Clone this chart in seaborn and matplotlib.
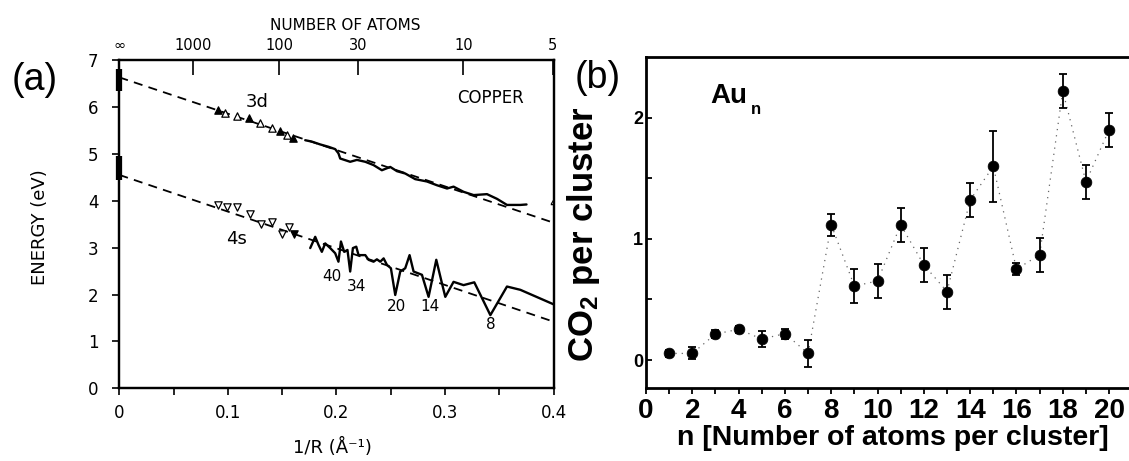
import numpy as np
import pandas as pd
import matplotlib
matplotlib.use("Agg")
import matplotlib.pyplot as plt
import seaborn as sns

# ---------------- data: panel (a) copper ----------------
d3_tri_x = [0.0913, 0.0974, 0.1088, 0.1195, 0.1297, 0.1405, 0.1481, 0.1543, 0.1598]
d3_tri_y = [5.93, 5.86, 5.81, 5.76, 5.65, 5.56, 5.49, 5.40, 5.34]
d3_tri_filled = [1, 0, 0, 1, 0, 0, 1, 0, 1]
s4_tri_x = [0.0913, 0.0990, 0.1088, 0.1205, 0.1303, 0.1410, 0.1497, 0.1558, 0.1604]
s4_tri_y = [3.91, 3.86, 3.86, 3.71, 3.50, 3.55, 3.29, 3.45, 3.30]
s4_tri_filled = [0, 0, 0, 0, 0, 0, 0, 0, 1]

d3_line_x = [0.1712, 0.1773, 0.1850, 0.1926, 0.1988, 0.2018, 0.2034, 0.2126, 0.2188, 0.2265,
             0.2341, 0.2418, 0.2495, 0.2557, 0.2633, 0.2725, 0.2833, 0.2925, 0.3018, 0.3078,
             0.3170, 0.3263, 0.3386, 0.3478, 0.3570, 0.3693, 0.3750]
d3_line_y = [5.29, 5.26, 5.20, 5.15, 5.10, 5.01, 4.90, 4.83, 4.87, 4.83,
             4.76, 4.65, 4.72, 4.63, 4.58, 4.46, 4.41, 4.33, 4.26, 4.30,
             4.19, 4.12, 4.14, 4.04, 3.91, 3.91, 3.92]
s4_line_x = [0.1758, 0.1804, 0.1834, 0.1865, 0.1896, 0.1942, 0.1988, 0.2018, 0.2041, 0.2071,
             0.2101, 0.2126, 0.2151, 0.2182, 0.2203, 0.2265, 0.2295, 0.2341, 0.2372, 0.2403,
             0.2434, 0.2465, 0.2501, 0.2541, 0.2587, 0.2633, 0.2673, 0.2710, 0.2787, 0.2848,
             0.2919, 0.2971, 0.3002, 0.3078, 0.3170, 0.3269, 0.3417, 0.3570, 0.3693, 0.4000]
s4_line_y = [2.99, 3.23, 3.06, 2.91, 3.09, 2.99, 2.88, 2.70, 3.13, 2.91,
             2.95, 2.49, 2.99, 3.02, 2.84, 2.84, 2.74, 2.70, 2.75, 2.70,
             2.77, 2.63, 2.56, 1.99, 2.49, 2.56, 2.84, 2.49, 2.42, 1.95,
             2.74, 2.24, 1.95, 2.27, 2.20, 2.26, 1.56, 2.17, 2.10, 1.79]

fit_x = [0.0, 0.4]
d3_fit_y = [6.63, 3.53]
s4_fit_y = [4.55, 1.42]
d3_bulk = [6.35, 6.80]
s4_bulk = [4.45, 4.95]

size_labels = ["40", "34", "20", "14", "8"]
size_label_x = [0.196, 0.218, 0.255, 0.2864, 0.3417]
size_label_y = [2.38, 2.17, 1.74, 1.75, 1.35]

top_atoms = [np.inf, 1000, 100, 30, 10, 5]
top_labels = ["∞", "1000", "100", "30", "10", "5"]
r_ws = 1.465  # Wigner-Seitz radius (Å) used for the N axis

# ---------------- data: panel (b) Au_n ----------------
n_atoms = list(range(1, 21))
co2 = [0.055, 0.055, 0.215, 0.254, 0.174, 0.218, 0.055, 1.116, 0.61, 0.653,
       1.116, 0.785, 0.565, 1.32, 1.598, 0.75, 0.868, 2.22, 1.47, 1.90]
co2_err = [0.03, 0.05, 0.03, 0.03, 0.07, 0.04, 0.11, 0.09, 0.14, 0.14,
           0.14, 0.14, 0.14, 0.14, 0.29, 0.05, 0.14, 0.14, 0.14, 0.14]

# ---------------- figure ----------------
sns.set_style("ticks")
plt.rcParams["font.family"] = ["DejaVu Sans"]
plt.rcParams["mathtext.default"] = "regular"
for k in ["text.color", "axes.labelcolor", "xtick.color", "ytick.color", "axes.edgecolor"]:
    plt.rcParams[k] = "black"

fig = plt.figure(figsize=(11.29, 4.61), dpi=100)
axA = fig.add_axes([0.1057, 0.1577, 0.3847, 0.7121])
axB = fig.add_axes([0.5722, 0.1584, 0.4278, 0.7180])

# ----- panel (a) -----
dash = (0, (5, 3.5))
sns.lineplot(x=fit_x, y=d3_fit_y, ax=axA, color="black", lw=1.3, linestyle=dash, sort=False, estimator=None)
sns.lineplot(x=fit_x, y=s4_fit_y, ax=axA, color="black", lw=1.3, linestyle=dash, sort=False, estimator=None)
sns.lineplot(x=d3_line_x, y=d3_line_y, ax=axA, color="black", lw=1.7, sort=False, estimator=None)
sns.lineplot(x=s4_line_x, y=s4_line_y, ax=axA, color="black", lw=1.7, sort=False, estimator=None)

tri = pd.DataFrame({"x": d3_tri_x, "y": d3_tri_y, "f": d3_tri_filled})
for f, fc in [(0, "white"), (1, "black")]:
    sub = tri[tri.f == f]
    sns.scatterplot(x=sub.x, y=sub.y, ax=axA, marker="^", s=28, facecolor=fc,
                    edgecolor="black", linewidth=0.9, zorder=4)
tri4 = pd.DataFrame({"x": s4_tri_x, "y": s4_tri_y, "f": s4_tri_filled})
for f, fc in [(0, "white"), (1, "black")]:
    sub = tri4[tri4.f == f]
    sns.scatterplot(x=sub.x, y=sub.y, ax=axA, marker="v", s=28, facecolor=fc,
                    edgecolor="black", linewidth=0.9, zorder=4)

axA.vlines(0, d3_bulk[0], d3_bulk[1], color="black", lw=4.5, clip_on=False, zorder=5)
axA.vlines(0, s4_bulk[0], s4_bulk[1], color="black", lw=4.5, clip_on=False, zorder=5)

for t, x, y in zip(size_labels, size_label_x, size_label_y):
    axA.text(x, y, t, ha="center", va="center", fontsize=11)
axA.text(0.127, 6.11, "3d", ha="center", va="center", fontsize=13)
axA.text(0.108, 3.18, "4s", ha="center", va="center", fontsize=13)
axA.text(0.342, 6.20, "COPPER", ha="center", va="center", fontsize=12)
axA.text(0.4, 3.95, "4", ha="center", va="center", fontsize=11, clip_on=True)

axA.set_xlim(0, 0.4)
axA.set_ylim(0, 7)
axA.set_xticks(np.arange(0, 0.401, 0.05))
axA.set_xticklabels(["0", "", "0.1", "", "0.2", "", "0.3", "", "0.4"])
axA.set_yticks(range(0, 8))
axA.tick_params(axis="x", direction="out", length=5, width=1.2, pad=6.3, labelsize=12)
axA.tick_params(axis="y", direction="out", length=5, width=1.2, pad=10, labelsize=12)
for sp in axA.spines.values():
    sp.set_linewidth(1.6)
    sp.set_visible(True)
axA.set_xlabel("1/R (Å⁻¹)", fontsize=13)
axA.xaxis.set_label_coords(0.49, -0.151)
axA.set_ylabel("ENERGY (eV)", fontsize=13)
axA.yaxis.set_label_coords(-0.162, 0.49)

topA = axA.twiny()
topA.set_xlim(axA.get_xlim())
top_pos = [0.0 if np.isinf(nn) else 1.0 / (r_ws * nn ** (1.0 / 3.0)) for nn in top_atoms]
topA.set_xticks(top_pos)
topA.set_xticklabels(top_labels)
topA.tick_params(axis="x", direction="in", length=11, width=1.2, pad=5, labelsize=10.5)
topA.set_xlabel("NUMBER OF ATOMS", fontsize=11)
topA.xaxis.set_label_coords(0.52, 1.091)
for sp in topA.spines.values():
    sp.set_linewidth(1.6)

fig.text(35 / 1129, 1 - 80 / 461, "(a)", fontsize=27, family="Liberation Sans",
         ha="center", va="center")

# ----- panel (b) -----
sns.lineplot(x=n_atoms, y=co2, ax=axB, color="#666666", lw=0.9,
             linestyle=(0, (1, 4)), sort=False, estimator=None)
axB.errorbar(n_atoms, co2, yerr=co2_err, fmt="none", ecolor="black",
             elinewidth=1.3, capsize=3, capthick=1.3, zorder=3)
sns.scatterplot(x=n_atoms, y=co2, ax=axB, color="black", s=60, edgecolor="black",
                linewidth=0.5, zorder=4)

axB.set_xlim(0, 20.86)
axB.set_ylim(-0.23, 2.5)
axB.set_xticks(range(0, 21, 2))
axB.set_xticks(range(1, 21, 2), minor=True)
axB.set_yticks([0, 1, 2])
axB.set_yticks([0.5, 1.5], minor=True)
axB.tick_params(axis="x", which="both", direction="out", length=4, width=1.3, pad=2.9, labelsize=20)
axB.tick_params(axis="y", which="both", direction="in", length=4, width=1.3, pad=2, labelsize=13)
for lbl in axB.get_xticklabels() + axB.get_yticklabels():
    lbl.set_fontfamily("Liberation Sans")
    lbl.set_fontweight("bold")
for s in ["left", "bottom", "top"]:
    axB.spines[s].set_visible(True)
    axB.spines[s].set_linewidth(2)
axB.spines["right"].set_visible(False)

axB.set_xlabel("n [Number of atoms per cluster]", fontsize=20.5,
               family="Liberation Sans", fontweight="bold")
axB.xaxis.set_label_coords(0.511, -0.112)
axB.set_ylabel("CO$_2$ per cluster", fontsize=25, family="Liberation Sans", fontweight="bold")
axB.yaxis.set_label_coords(-0.091, 0.465)

axB.text(2.76, 2.12, "Au", fontsize=20, family="Liberation Sans", fontweight="bold",
         ha="left", va="baseline")
axB.text(4.55, 2.03, "n", fontsize=12, family="Liberation Sans", fontweight="bold",
         ha="left", va="baseline")
fig.text(598 / 1129, 1 - 78 / 461, "(b)", fontsize=27, family="Liberation Sans",
         ha="center", va="center")

fig.savefig("out.png", dpi=100)
